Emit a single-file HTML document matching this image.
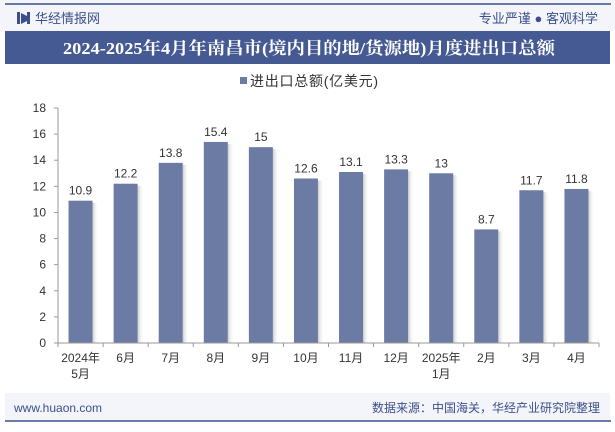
<!DOCTYPE html>
<html><head><meta charset="utf-8"><style>
body{margin:0;width:615px;height:427px;overflow:hidden;background:#fff;font-family:"Liberation Sans","Noto Sans CJK SC",sans-serif;}
</style></head><body>
<svg width="615" height="427" xmlns="http://www.w3.org/2000/svg" font-family="Liberation Sans, Noto Sans CJK SC, sans-serif">
<defs><linearGradient id="sh" x1="0" x2="1"><stop offset="0" stop-color="#999" stop-opacity="0.5"/><stop offset="1" stop-color="#fff" stop-opacity="0"/></linearGradient></defs>
<rect x="0" y="0" width="615" height="31" fill="#f3f5fa"/>
<line x1="5" y1="4" x2="611" y2="4" stroke="#3d4f8a" stroke-width="1.5"/>
<g><rect x="17" y="12" width="3" height="12" fill="#3d4f8a"/><path d="M21 13 L27 16 L27 21 L21 24Z" fill="#3d4f8a"/><rect x="27" y="12" width="3" height="12" fill="#3d4f8a"/></g>
<text x="35" y="23" font-size="13" fill="#3d4f8a">华经情报网</text>
<text x="598" y="23" font-size="13" fill="#3d4f8a" text-anchor="end">专业严谨 ● 客观科学</text>
<rect x="5" y="31" width="605" height="33" fill="#455a92"/>
<text x="63" y="54" font-size="17" font-weight="bold" fill="#fff" textLength="492" lengthAdjust="spacingAndGlyphs" font-family="Liberation Serif, Noto Serif CJK SC, serif">2024-2025年4月年南昌市(境内目的地/货源地)月度进出口总额</text>
<rect x="240" y="77" width="7" height="7" fill="#6b7ba4"/>
<text x="250" y="86" font-size="14" fill="#333" textLength="128">进出口总额(亿美元)</text>
<g id="plot"></g>
<rect x="5" y="393" width="605" height="28" fill="#f3f5fa"/>
<line x1="5" y1="421" x2="611" y2="421" stroke="#3d4f8a" stroke-width="1.5"/>
<text x="14" y="412" font-size="12" fill="#3d4f8a">www.huaon.com</text>
<text x="600" y="412" font-size="12" fill="#3d4f8a" text-anchor="end">数据来源：中国海关，华经产业研究院整理</text>
</svg>
<script>
const categories=[["2024年","5月"],["6月"],["7月"],["8月"],["9月"],["10月"],["11月"],["12月"],["2025年","1月"],["2月"],["3月"],["4月"]];
const values=[10.9,12.2,13.8,15.4,15,12.6,13.1,13.3,13,8.7,11.7,11.8];
const yTicks=[0,2,4,6,8,10,12,14,16,18];
const NS="http://www.w3.org/2000/svg";
const g=document.getElementById('plot');
const y0=343,yTop=108,yMax=18;
const Y=v=>y0-(v/yMax)*(y0-yTop);
function mk(t,a){const e=document.createElementNS(NS,t);for(const k in a)e.setAttribute(k,a[k]);g.appendChild(e);return e;}
const L=58,R=599,B=(R-L)/categories.length;
const X=i=>L+B*i+B/2;
yTicks.forEach(v=>{
 const t=mk('text',{x:L-12,y:Y(v)+4,'font-size':12,fill:'#333','text-anchor':'end'});t.textContent=v;
 
 
 const l=mk('line',{x1:L-4,x2:L,y1:Y(v),y2:Y(v),stroke:'#999'});
 
 
});
const ya=mk('line',{x1:L,x2:L,y1:yTop,y2:y0,stroke:'#999'});


values.forEach((v,i)=>{
 const w=24,cx=X(i);
 const s=mk('rect',{x:cx+w/2,y:Y(v)+2,width:6,height:y0-Y(v)-2,fill:'url(#sh)'});
 
 
 const r=mk('rect',{x:cx-w/2,y:Y(v),width:w,height:y0-Y(v),fill:'#6b7ba4'});
 
 
 const t=mk('text',{x:cx,y:Y(v)-6,'font-size':12,fill:'#333','text-anchor':'middle'});t.textContent=v;
 
 
 categories[i].forEach((c,j)=>{const tt=mk('text',{x:cx,y:362+j*16,'font-size':12,fill:'#333','text-anchor':'middle'});tt.textContent=c;
 
 });
});
for(let i=0;i<=categories.length;i++){const l=mk('line',{x1:L+B*i,x2:L+B*i,y1:y0,y2:y0+4,stroke:'#999'});
 
 }
const xa=mk('line',{x1:L,x2:R,y1:y0,y2:y0,stroke:'#999'});


</script>
</body></html>
